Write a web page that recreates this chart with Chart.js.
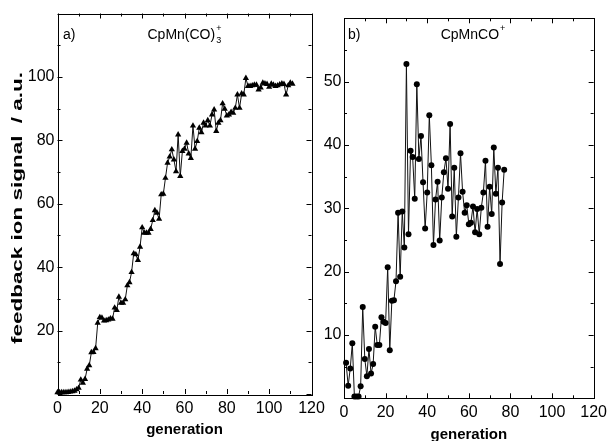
<!DOCTYPE html>
<html>
<head>
<meta charset="utf-8">
<script src="https://cdn.jsdelivr.net/npm/chart.js@4.4.1/dist/chart.umd.min.js"></script>
<style>
  html,body{margin:0;padding:0;background:#fff;}
  #wrap{position:relative;width:612px;height:441px;overflow:hidden;}
  canvas{position:absolute;top:0;}
</style>
</head>
<body>
<div id="wrap">
  <canvas id="cA" width="330" height="441" style="left:0px"></canvas>
  <canvas id="cB" width="292" height="441" style="left:320px"></canvas>
</div>
<script>
// ---------- data ----------
const firstGenA = 0;
const signalA = [0.5,0.5,0.5,0.5,0.5,0.6,0.7,0.8,1.0,1.4,1.9,4.5,3.5,4.7,7.9,9.0,13.1,13.2,14.4,22.4,
  24.2,24.0,23.1,23.2,23.4,23.8,23.7,27.2,26.4,30.6,28.7,28.7,29.8,34.2,35.2,38.4,44.3,44.0,42.2,46.4,
  52.5,50.8,50.8,50.8,52.0,54.8,57.9,57.1,55.2,62.9,63.1,68.1,72.9,74.8,77.1,73.9,70.2,81.8,68.7,76.6,
  77.3,79.2,75.8,74.4,84.6,77.3,79.7,83.9,82.5,85.5,84.6,86.3,84.6,88.1,89.7,82.9,85.5,86.3,91.6,89.9,
  87.8,88.1,88.9,88.6,90.2,94.4,90.2,94.7,94.4,99.6,97.1,97.1,97.3,97.5,97.5,96.0,96.6,98.1,97.9,97.7,
  96.8,97.8,97.5,97.1,97.3,97.6,97.9,97.7,94.4,97.3,98.1,97.8];
const firstGenB = 1;
const signalB = [5.6,2.0,4.7,8.7,0.3,0.3,0.3,1.9,14.4,6.2,3.5,7.8,3.9,5.4,11.3,8.4,8.4,12.8,12.1,11.9,
  20.7,7.6,15.4,15.5,18.5,29.3,19.2,29.5,23.8,52.8,25.9,39.1,38.1,31.5,49.6,37.8,41.4,34.1,26.8,32.5,
  44.7,36.8,24.2,31.4,34.2,24.9,31.7,35.7,37.9,33.1,43.3,28.7,36.4,25.5,31.7,38.7,32.6,29.3,30.5,27.5,
  27.7,30.3,26.2,29.9,25.9,30.1,32.5,37.5,27.1,33.4,29.1,39.6,32.3,36.4,21.2,30.9,36.1];
const xTicks = [0,20,40,60,80,100,120];
const yTicksA = [20,40,60,80,100];
const yTicksB = [10,20,30,40,50];

const FONT = '"Liberation Sans", Arial, sans-serif';

// ---------- frame / inward ticks / annotations ----------
const framePlugin = {
  id: 'frame',
  afterDraw(chart, args, o) {
    const ctx = chart.ctx;
    const {left, right, top, bottom} = chart.chartArea;
    const x = chart.scales.x, y = chart.scales.y;
    ctx.save();
    ctx.strokeStyle = '#000';
    ctx.lineWidth = 1;
    const L = (x1,y1,x2,y2)=>{ctx.beginPath();ctx.moveTo(x1,y1);ctx.lineTo(x2,y2);ctx.stroke();};
    ctx.strokeRect(Math.round(left)+0.5, Math.round(top)+0.5, Math.round(right-left), Math.round(bottom-top));
    for (let v = x.min; v <= x.max + 1e-9; v += o.xMinor) {
      const p = Math.round(x.getPixelForValue(v)) + 0.5;
      const len = (Math.abs(v % o.xMajor) < 1e-9) ? 5 : 3;
      L(p, bottom, p, bottom - len);
      L(p, top, p, top + len);
    }
    for (let v = y.min; v <= y.max + 1e-9; v += o.yMinor) {
      const p = Math.round(y.getPixelForValue(v)) + 0.5;
      const len = (Math.abs(v % o.yMajor) < 1e-9) ? 5 : 3;
      L(left, p, left + len, p);
      L(right, p, right - len, p);
    }
    ctx.fillStyle = '#000';
    ctx.textBaseline = 'alphabetic';
    ctx.textAlign = 'left';
    ctx.font = '14px ' + FONT;
    ctx.fillText(o.panel, o.panelX, o.baseY);
    // formula
    let cx = o.formX;
    for (const part of o.formula) {
      if (part.t === 'n') {
        ctx.font = '14px ' + FONT;
        ctx.fillText(part.s, cx, o.baseY);
        cx += ctx.measureText(part.s).width;
      } else if (part.t === 'sub') {
        ctx.font = '9px ' + FONT;
        ctx.fillText(part.s, cx + 1, o.baseY + 4);
      } else if (part.t === 'sup') {
        ctx.font = '9px ' + FONT;
        ctx.fillText(part.s, cx + 1, o.baseY - 8);
      }
    }
    if (o.yTitle) {
      ctx.save();
      ctx.translate(o.yTitleX, o.yTitleY);
      ctx.rotate(-Math.PI/2);
      ctx.font = 'bold 14px ' + FONT;
      const w = ctx.measureText(o.yTitle).width;
      ctx.scale(o.yTitleLen / w, 1);
      ctx.textAlign = 'center';
      ctx.textBaseline = 'middle';
      ctx.fillText(o.yTitle, 0, 0);
      ctx.restore();
    }
    ctx.restore();
  }
};

function makeChart(id, firstGen, values, cfg) {
  const pts = values.map((v,i)=>({x: firstGen + i, y: v}));
  return new Chart(document.getElementById(id), {
    type: 'line',
    data: { datasets: [{
      data: pts,
      borderColor: '#111',
      borderWidth: 1,
      pointStyle: cfg.pointStyle,
      pointRadius: cfg.pointRadius,
      pointBackgroundColor: '#000',
      pointBorderColor: '#000',
      pointBorderWidth: 0,
      tension: 0,
      clip: false
    }]},
    options: {
      responsive: false,
      animation: false,
      events: [],
      layout: { padding: cfg.padding },
      plugins: { legend: {display:false}, tooltip: {enabled:false}, frame: cfg.frame },
      scales: {
        x: {
          type: 'linear', min: 0, max: 120,
          grid: {display:false, drawTicks:false},
          border: {display:false},
          afterBuildTicks: s => { s.ticks = xTicks.map(v=>({value:v})); },
          afterFit: s => { s.height = cfg.xHeight; },
          ticks: { color:'#000', font:{family:FONT, size:16}, padding: cfg.xPad, maxRotation:0, autoSkip:false },
          title: { display:true, text:'generation', color:'#000',
                   font:{family:FONT, size:15, weight:'bold', lineHeight:1}, padding:{top:0,bottom:cfg.xTitlePad} }
        },
        y: {
          type: 'linear', min: 0, max: cfg.yMax,
          grid: {display:false, drawTicks:false},
          border: {display:false},
          afterBuildTicks: s => { s.ticks = cfg.yTicks.map(v=>({value:v})); },
          afterFit: s => { s.width = cfg.yWidth; },
          ticks: { color:'#000', font:{family:FONT, size:16}, padding: cfg.yPad, autoSkip:false }
        }
      }
    },
    plugins: [framePlugin]
  });
}

makeChart('cA', firstGenA, signalA, {
  pointStyle: 'triangle', pointRadius: 3.6,
  padding: {left:0, right:18.5, top:13.5, bottom:0},
  xHeight: 47, yWidth: 57.5, yMax: 120, yTicks: yTicksA,
  xPad: 5, yPad: 3, xTitlePad: 3.5,
  frame: { xMinor:10, xMajor:20, yMinor:10, yMajor:20,
    panel:'a)', panelX:63, baseY:38.5,
    formX:147.5, formula:[{t:'n',s:'CpMn(CO)'},{t:'sub',s:'3'},{t:'sup',s:'+'}],
    yTitle:'feedback ion signal  / a.u.', yTitleX:18, yTitleY:208, yTitleLen:272 }
});

makeChart('cB', firstGenB, signalB, {
  pointStyle: 'circle', pointRadius: 3,
  padding: {left:0, right:15.3, top:18.3, bottom:0},
  xHeight: 42.7, yWidth: 24, yMax: 60, yTicks: yTicksB,
  xPad: 5, yPad: 2.5, xTitlePad: -1,
  frame: { xMinor:10, xMajor:20, yMinor:5, yMajor:10,
    panel:'b)', panelX:28, baseY:38.5,
    formX:120.7, formula:[{t:'n',s:'CpMnCO'},{t:'sup',s:'+'}] }
});
</script>
</body>
</html>
